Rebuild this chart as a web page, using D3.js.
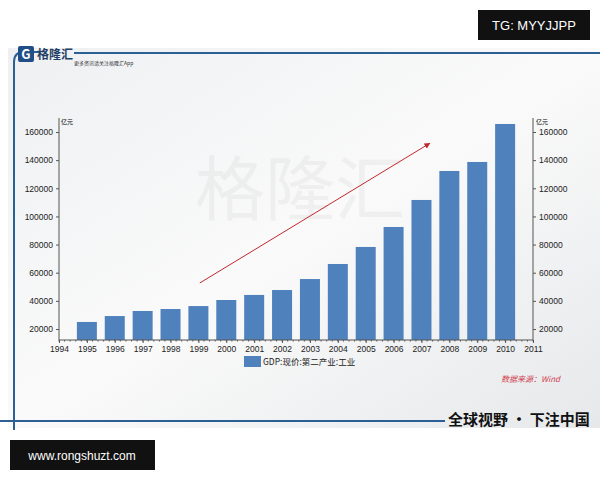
<!DOCTYPE html><html><head><meta charset="utf-8"><script src="https://cdn.jsdelivr.net/npm/d3@7"></script>
<style>body{margin:0;background:#fff}svg{display:block;font-family:"Noto Sans CJK SC","Liberation Sans",sans-serif}</style></head><body><svg id="c" width="600" height="480"></svg>
<script>
const years=[1995,1996,1997,1998,1999,2000,2001,2002,2003,2004,2005,2006,2007,2008,2009,2010];
const values=[25000,29200,32800,34200,36300,40600,44200,47700,55500,66200,78300,92500,111700,132300,138700,165700];
const yTicks=[20000,40000,60000,80000,100000,120000,140000,160000];
const xTicks=d3.range(1994,2012);
const svg=d3.select("#c");
const defs=svg.append("defs");
const g0=defs.append("linearGradient").attr("id","bg").attr("x1",0).attr("y1",0).attr("x2",1).attr("y2",1);
g0.append("stop").attr("offset",0).attr("stop-color","#eef0f2");
g0.append("stop").attr("offset",0.5).attr("stop-color","#fafafa");
g0.append("stop").attr("offset",1).attr("stop-color","#e6e8ea");
svg.append("rect").attr("x",8).attr("y",48).attr("width",592).attr("height",380).attr("fill","url(#bg)");
svg.append("path").attr("d","M14,430 V62 Q14,52 24,52 H40").attr("fill","none").attr("stroke","#2c5f94").attr("stroke-width",2);
svg.append("line").attr("x1",74).attr("x2",600).attr("y1",53).attr("y2",53).attr("stroke","#2c5f94").attr("stroke-width",2);
svg.append("rect").attr("x",18).attr("y",46).attr("width",16).attr("height",16).attr("fill","#1f4f86").attr("rx",2);
svg.append("text").attr("x",26).attr("y",59).attr("text-anchor","middle").attr("fill","#fff").attr("font-size",13).attr("font-weight","bold").text("G");
svg.append("text").attr("x",37).attr("y",59).attr("font-size",12).attr("font-weight","bold").attr("fill","#1f3f66").text("格隆汇");
svg.append("text").attr("x",74).attr("y",65).attr("font-size",5).attr("fill","#333").text("更多资讯请关注格隆汇App");
svg.append("text").attr("x",300).attr("y",215).attr("text-anchor","middle").attr("font-size",70).attr("fill","#000").attr("opacity",0.035).text("格隆汇");
svg.append("line").attr("x1",0).attr("x2",445).attr("y1",421).attr("y2",421).attr("stroke","#2c5f94").attr("stroke-width",2);
svg.append("text").attr("x",448).attr("y",425).attr("font-size",15).attr("font-weight","bold").attr("fill","#111").text("全球视野 · 下注中国");
svg.append("rect").attr("x",478).attr("y",10).attr("width",112).attr("height",30).attr("fill","#111");
svg.append("text").attr("x",534).attr("y",30).attr("text-anchor","middle").attr("fill","#fff").attr("font-size",13).attr("font-family","Liberation Sans").text("TG: MYYJJPP");
svg.append("rect").attr("x",10).attr("y",440).attr("width",145).attr("height",30).attr("fill","#111");
svg.append("text").attr("x",82).attr("y",460).attr("text-anchor","middle").attr("fill","#fff").attr("font-size",12).attr("font-family","Liberation Sans").text("www.rongshuzt.com");

const x=d3.scaleLinear().domain([1994,2011]).range([59,533]);
const y=d3.scaleLinear().domain([20000,160000]).range([329,132]);
const base=340;
svg.append("g").selectAll("rect").data(years).join("rect")
 .attr("x",d=>x(d)-10).attr("width",20).attr("y",(d,i)=>y(values[i])).attr("height",(d,i)=>base-y(values[i])).attr("fill","#4f81bd");
const l=d3.axisLeft(y).tickValues(yTicks).tickSize(3).tickFormat(d3.format("d"));
const gl=svg.append("g").attr("transform","translate(59,0)").call(l);
const gr=svg.append("g").attr("transform","translate(533,0)").call(d3.axisRight(y).tickValues(yTicks).tickSize(3).tickFormat(d3.format("d")));
const gb=svg.append("g").attr("transform",`translate(0,${base})`).call(d3.axisBottom(x).tickValues(xTicks).tickSize(3).tickFormat(d3.format("d")));
[gl,gr,gb].forEach(g=>{g.select(".domain").attr("d",null);g.selectAll("text").attr("font-size",8.5).attr("fill","#222");g.selectAll("line").attr("stroke","#555");});
svg.append("line").attr("x1",59).attr("x2",59).attr("y1",118).attr("y2",base).attr("stroke","#555");
svg.append("line").attr("x1",533).attr("x2",533).attr("y1",118).attr("y2",base).attr("stroke","#555");
svg.append("line").attr("x1",59).attr("x2",533).attr("y1",base).attr("y2",base).attr("stroke","#555");
svg.append("g").selectAll("line").data(d3.range(1994,2011.01,0.2)).join("line").attr("x1",d=>x(d)).attr("x2",d=>x(d)).attr("y1",base).attr("y2",base+1.5).attr("stroke","#555");
svg.append("text").attr("x",61).attr("y",124).attr("font-size",6).text("亿元");
svg.append("text").attr("x",536).attr("y",124).attr("font-size",6).text("亿元");
defs.append("marker").attr("id","ar").attr("viewBox","0 0 10 10").attr("refX",9).attr("refY",5).attr("markerWidth",6).attr("markerHeight",6).attr("orient","auto").append("path").attr("d","M0,0L10,5L0,10z").attr("fill","#c0282d");
svg.append("line").attr("x1",x(1999.05)).attr("y1",y(52700)).attr("x2",x(2007.3)).attr("y2",y(152000)).attr("stroke","#c0282d").attr("marker-end","url(#ar)");
svg.append("rect").attr("x",244).attr("y",356).attr("width",17).attr("height",11).attr("fill","#4f81bd");
svg.append("text").attr("x",263).attr("y",365).attr("font-size",8.5).attr("fill","#222").text("GDP:现价:第二产业:工业");
svg.append("text").attr("x",560).attr("y",382).attr("text-anchor","end").attr("font-size",8).attr("font-style","italic").attr("fill","#d04050").text("数据来源：Wind");
</script></body></html>
